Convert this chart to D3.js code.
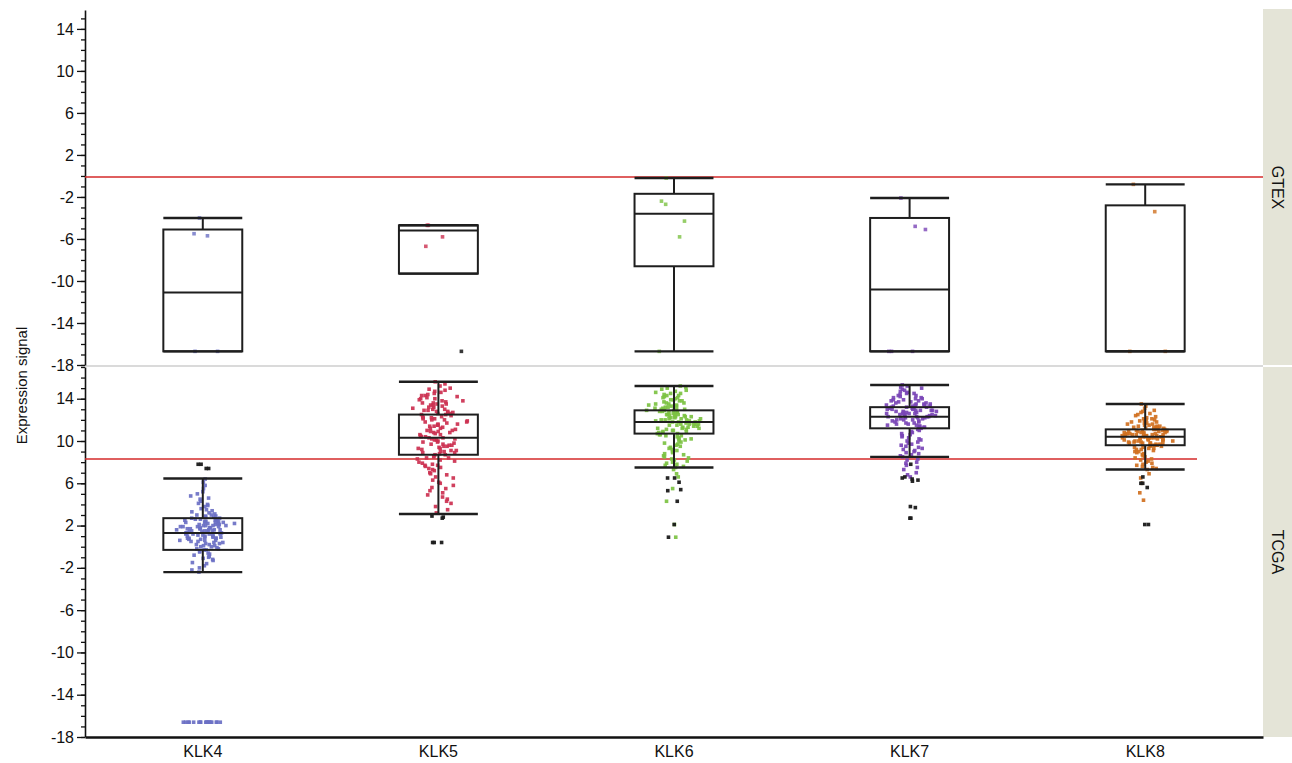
<!DOCTYPE html>
<html><head><meta charset="utf-8">
<script src="https://cdn.jsdelivr.net/npm/d3@7"></script>
<style>body{margin:0;background:#fff} svg{display:block} text{font-family:"Liberation Sans",Arial,sans-serif;fill:#111}</style>
</head><body><svg id="c" width="1292" height="763"></svg>
<script>
// ---------------- DATA ----------------
const categories = ["KLK4","KLK5","KLK6","KLK7","KLK8"];
const panels = ["GTEX","TCGA"];
const yMajorTicks = [14,10,6,2,-2,-6,-10,-14,-18];
const yTitle = "Expression signal";
const colors = ["#6b70c4","#cc3050","#7cc242","#7a45b6","#d07020"];

// reference (red) lines, one per panel
const refValues = [-0.1, 8.3];

// box statistics, GTEX panel (per category)
const gtexLo  = [-16.7, -9.3, -16.7, -16.7, -16.7];
const gtexQ1  = [-16.7, -9.3,  -8.6, -16.7, -16.7];
const gtexMed = [-11.1, -5.2,  -3.6, -10.8, -16.7];
const gtexQ3  = [ -5.1, -4.7,  -1.7,  -4.0,  -2.8];
const gtexHi  = [ -4.0, -4.7,  -0.2,  -2.1,  -0.8];

// box statistics, TCGA panel
const tcgaLo  = [-2.4,  3.1,  7.5,  8.5,  7.3];
const tcgaQ1  = [-0.3,  8.7, 10.7, 11.2,  9.6];
const tcgaMed = [ 1.3, 10.3, 11.8, 12.3, 10.4];
const tcgaQ3  = [ 2.7, 12.5, 12.9, 13.2, 11.1];
const tcgaHi  = [ 6.45,15.6, 15.2, 15.3, 13.5];

// visible GTEX points
const gtexKLK4 = [-4.0, -5.5, -5.7, -16.7, -16.7];
const gtexKLK5 = [-4.7, -4.7, -5.8, -6.7];
const gtexKLK6 = [-0.2, -2.4, -2.7, -4.3, -5.8, -16.7];
const gtexKLK7 = [-2.1, -4.8, -5.1, -16.7, -16.7, -16.7];
const gtexKLK8 = [-0.8, -3.4, -16.7, -16.7];
const gtexDark = [[], [-16.7], [], [], []];

// TCGA points
const tcgaKLK4 = [6.4,6.1,5.8,5.5,5.2,5.0,4.8,4.6,4.5,4.3,4.1,4.0,3.9,3.8,3.6,3.5,3.4,3.3,3.2,3.1,3.0,3.0,2.9,2.9,2.8,2.8,2.7,2.7,2.6,2.6,2.5,2.5,2.5,2.4,2.4,2.3,2.3,2.3,2.2,2.2,2.2,2.1,2.1,2.0,2.0,2.0,1.9,1.9,1.9,1.8,1.8,1.8,1.7,1.7,1.7,1.6,1.6,1.6,1.5,1.5,1.5,1.4,1.4,1.4,1.3,1.3,1.3,1.2,1.2,1.2,1.1,1.1,1.0,1.0,1.0,0.9,0.9,0.8,0.8,0.8,0.7,0.7,0.6,0.6,0.5,0.5,0.4,0.4,0.3,0.3,0.2,0.2,0.1,0.1,0.0,0.0,-0.1,-0.2,-0.2,-0.3,-0.3,-0.4,-0.5,-0.6,-0.7,-0.8,-0.9,-1.0,-1.1,-1.2,-1.3,-1.5,-1.6,-1.8,-2.0,-2.2,-2.4,2.6,2.3,2.1,1.9,1.7,1.5,1.3,1.1,0.9,0.6,2.4,2.0,1.6,1.2,0.8];
const tcgaKLK4Floor = [-16.6,-16.6,-16.6,-16.6,-16.6,-16.6,-16.6,-16.6,-16.6,-16.6,-16.6,-16.6,-16.6,-16.6,-16.6,-16.6,-16.6,-16.6];
const tcgaKLK5 = [15.6,15.4,15.2,15.0,14.9,14.8,14.7,14.6,14.5,14.4,14.3,14.3,14.2,14.1,14.0,14.0,13.9,13.8,13.8,13.7,13.6,13.6,13.5,13.4,13.4,13.3,13.2,13.2,13.1,13.0,13.0,12.9,12.9,12.8,12.7,12.7,12.6,12.6,12.5,12.5,12.4,12.3,12.3,12.2,12.1,12.1,12.0,12.0,11.9,11.8,11.8,11.7,11.6,11.6,11.5,11.4,11.4,11.3,11.2,11.2,11.1,11.0,11.0,10.9,10.8,10.8,10.7,10.6,10.6,10.5,10.4,10.4,10.3,10.3,10.2,10.1,10.1,10.0,9.9,9.9,9.8,9.7,9.7,9.6,9.5,9.5,9.4,9.3,9.3,9.2,9.1,9.1,9.0,8.9,8.9,8.8,8.7,8.7,8.6,8.5,8.4,8.3,8.2,8.1,8.0,7.9,7.8,7.7,7.6,7.5,7.4,7.3,7.2,7.0,6.9,6.8,6.6,6.5,6.3,6.1,6.0,5.8,5.6,5.5,5.3,5.1,4.9,4.7,4.5,4.3,4.1,3.8,3.5,3.2,13.5,12.8,12.2,11.5,10.9,10.2,9.6,9.0,8.4,7.7];
const tcgaKLK6 = [15.2,15.1,15.0,14.9,14.8,14.7,14.6,14.5,14.5,14.4,14.3,14.3,14.2,14.1,14.1,14.0,13.9,13.9,13.8,13.8,13.7,13.6,13.6,13.5,13.5,13.4,13.4,13.3,13.3,13.2,13.2,13.1,13.1,13.0,13.0,12.9,12.9,12.9,12.8,12.8,12.7,12.7,12.7,12.6,12.6,12.5,12.5,12.5,12.4,12.4,12.3,12.3,12.3,12.2,12.2,12.1,12.1,12.1,12.0,12.0,11.9,11.9,11.9,11.8,11.8,11.8,11.7,11.7,11.6,11.6,11.6,11.5,11.5,11.4,11.4,11.3,11.3,11.2,11.2,11.1,11.1,11.0,11.0,10.9,10.9,10.8,10.8,10.7,10.7,10.6,10.5,10.5,10.4,10.3,10.2,10.2,10.1,10.0,9.9,9.8,9.7,9.6,9.5,9.4,9.3,9.2,9.1,9.0,8.9,8.8,8.7,8.6,8.5,8.4,8.3,8.2,8.1,8.0,7.9,7.8,7.7,7.6,7.5,7.3,6.9,6.6,5.5,4.3,2.1,0.9,12.4,12.0,11.6,13.0,11.2,10.6];
const tcgaKLK7 = [15.3,15.2,15.1,15.0,14.9,14.8,14.7,14.6,14.5,14.5,14.4,14.3,14.3,14.2,14.1,14.1,14.0,14.0,13.9,13.9,13.8,13.8,13.7,13.7,13.6,13.6,13.5,13.5,13.5,13.4,13.4,13.3,13.3,13.3,13.2,13.2,13.2,13.1,13.1,13.1,13.0,13.0,13.0,12.9,12.9,12.9,12.8,12.8,12.8,12.7,12.7,12.7,12.6,12.6,12.6,12.5,12.5,12.5,12.4,12.4,12.4,12.3,12.3,12.3,12.2,12.2,12.2,12.1,12.1,12.0,12.0,11.9,11.9,11.8,11.8,11.7,11.7,11.6,11.6,11.5,11.5,11.4,11.4,11.3,11.3,11.2,11.2,11.1,11.0,10.9,10.8,10.7,10.6,10.5,10.4,10.3,10.2,10.1,10.0,9.9,9.8,9.7,9.6,9.5,9.4,9.3,9.2,9.1,9.0,8.9,8.8,8.7,8.6,8.5,8.3,8.2,8.0,7.9,7.7,7.5,7.3,7.0,6.8,6.6,12.9,12.6,12.3,13.1,12.0,13.4];
const tcgaKLK8 = [13.5,13.3,13.1,12.9,12.8,12.7,12.6,12.5,12.4,12.3,12.2,12.1,12.1,12.0,12.0,11.9,11.9,11.8,11.8,11.7,11.7,11.6,11.6,11.5,11.5,11.4,11.4,11.4,11.3,11.3,11.3,11.2,11.2,11.2,11.1,11.1,11.1,11.0,11.0,11.0,11.0,10.9,10.9,10.9,10.8,10.8,10.8,10.8,10.7,10.7,10.7,10.7,10.6,10.6,10.6,10.6,10.5,10.5,10.5,10.5,10.4,10.4,10.4,10.4,10.3,10.3,10.3,10.3,10.2,10.2,10.2,10.2,10.1,10.1,10.1,10.0,10.0,10.0,9.9,9.9,9.9,9.8,9.8,9.8,9.7,9.7,9.7,9.6,9.6,9.6,9.5,9.5,9.4,9.4,9.3,9.3,9.2,9.2,9.1,9.0,9.0,8.9,8.8,8.7,8.6,8.5,8.4,8.3,8.2,8.1,8.0,7.9,7.8,7.7,7.6,7.5,7.4,7.3,6.9,6.5,6.0,5.1,4.4,10.9,10.6,10.3,10.0,11.2,10.5,9.8];
const tcgaDark = [
  [7.8,7.8,7.4,7.4],
  [2.9,2.8,2.7,0.4,0.4,0.4],
  [6.5,6.5,6.1,5.4,5.3,4.3,2.1,0.9],
  [7.8,6.6,6.5,6.4,6.3,6.2,3.8,3.7,2.7,2.7],
  [6.6,6.0,6.0,5.6,2.1,2.1]
];

// ---------------- LAYOUT ----------------
const svg = d3.select("#c");
const plotL = 85, plotR = 1263, stripR = 1292;
const panelTop = [10, 367], panelBot = [365, 737];
const panelDomain = [[-18, 15.8], [-18, 17]];
const refExtent = [1.0, 0.944];
const boxFrac = 0.335;

const x = d3.scaleBand().domain(categories).range([plotL, plotR]);
const ys = panelDomain.map((d, i) => d3.scaleLinear().domain(d).range([panelBot[i], panelTop[i]]));

const boxStats = [
  [gtexLo, gtexQ1, gtexMed, gtexQ3, gtexHi],
  [tcgaLo, tcgaQ1, tcgaMed, tcgaQ3, tcgaHi]
];
const gtexPts = [gtexKLK4, gtexKLK5, gtexKLK6, gtexKLK7, gtexKLK8];
const tcgaPts = [tcgaKLK4, tcgaKLK5, tcgaKLK6, tcgaKLK7, tcgaKLK8];

// deterministic integer hash, used only for horizontal jitter placement
function hash(n) {
  let t = (n * 2654435761 + 0x6D2B79F5) | 0;
  t = Math.imul(t ^ (t >>> 15), t | 1);
  t ^= t + Math.imul(t ^ (t >>> 7), t | 61);
  return ((t ^ (t >>> 14)) >>> 0) / 4294967296;
}
let seedBase = 17;
function jitter(vals, maxW, bw, minW) {
  const counts = vals.map(v => vals.filter(u => Math.abs(u - v) <= bw).length);
  const mc = d3.max(counts) || 1;
  const base = seedBase; seedBase += 997;
  return vals.map((v, i) => {
    const w = minW + (maxW - minW) * Math.pow(counts[i] / mc, 0.75);
    const u = 0.6 * (2 * hash(base + i * 3) - 1) + 0.4 * (hash(base + i * 3 + 1) + hash(base + i * 3 + 2) - 1);
    return u * w;
  });
}

// strips
panels.forEach((p, i) => {
  svg.append("rect").attr("x", plotR).attr("y", panelTop[i] - (i === 0 ? 1 : 0))
    .attr("width", stripR - plotR).attr("height", panelBot[i] - panelTop[i] + (i === 0 ? 1 : 0))
    .attr("fill", "#e4e4d7");
  svg.append("text")
    .attr("transform", `translate(${(plotR + stripR) / 2},${(panelTop[i] + panelBot[i]) / 2}) rotate(90)`)
    .attr("text-anchor", "middle").attr("dominant-baseline", "central")
    .style("font-size", "16px").text(p);
});

// panel separator
svg.append("line").attr("x1", plotL).attr("x2", plotR)
  .attr("y1", (panelBot[0] + panelTop[1]) / 2).attr("y2", (panelBot[0] + panelTop[1]) / 2)
  .attr("stroke", "#dadada").attr("stroke-width", 2);

// axes
ys.forEach((y, i) => {
  const minor = d3.range(-18, Math.floor(panelDomain[i][1]) + 1);
  svg.append("g").attr("transform", `translate(${plotL},0)`)
    .call(d3.axisLeft(y).tickValues(minor).tickSize(4).tickSizeOuter(0).tickFormat(""))
    .call(g => g.selectAll("line").attr("stroke", "#111").attr("stroke-width", 1.3))
    .call(g => g.select(".domain").attr("stroke", "#111").attr("stroke-width", 1.6));
  svg.append("g").attr("transform", `translate(${plotL},0)`)
    .call(d3.axisLeft(y).tickValues(yMajorTicks).tickSize(8).tickSizeOuter(0).tickPadding(3)
      .tickFormat(d => d < 0 ? "-" + Math.abs(d) : String(d)))
    .call(g => g.select(".domain").remove())
    .call(g => g.selectAll("line").attr("stroke", "#111").attr("stroke-width", 1.3))
    .call(g => g.selectAll("text").style("font-size", "16px").attr("fill", "#111")
      .style("font-family", '"Liberation Sans",Arial,sans-serif'));
});

// x axis
svg.append("g").attr("transform", `translate(0,${panelBot[1]})`)
  .call(d3.axisBottom(x).tickSize(0).tickPadding(9))
  .call(g => g.select(".domain").attr("stroke", "#111").attr("stroke-width", 2.4))
  .call(g => g.selectAll("text").style("font-size", "16px").attr("fill", "#111")
    .style("font-family", '"Liberation Sans",Arial,sans-serif'));

// y title
svg.append("text")
  .attr("transform", `translate(21,${(panelTop[0] + panelBot[1]) / 2 + 12}) rotate(-90)`)
  .attr("text-anchor", "middle").attr("dominant-baseline", "central")
  .style("font-size", "15px").text(yTitle);

// reference lines
refValues.forEach((v, i) => {
  svg.append("line").attr("x1", plotL).attr("x2", plotL + (plotR - plotL) * refExtent[i])
    .attr("y1", ys[i](v)).attr("y2", ys[i](v))
    .attr("stroke", "#d42a2a").attr("stroke-width", 1.6);
});

const ptSize = 3.6;
function drawPts(g, vals, cx, y, color, maxW, minW, op) {
  const jx = jitter(vals, maxW, 0.45, minW);
  g.selectAll(null).data(vals).join("rect")
    .attr("x", (d, k) => cx + jx[k] - ptSize / 2)
    .attr("y", d => y(d) - ptSize / 2)
    .attr("width", ptSize).attr("height", ptSize)
    .attr("fill", color).attr("opacity", op);
}

// boxes + points
boxStats.forEach((st, pi) => {
  const y = ys[pi];
  const g = svg.append("g");
  categories.forEach((c, ci) => {
    const cx = x(c) + x.bandwidth() / 2;
    const bw = x.bandwidth() * boxFrac;
    const [lo, q1, med, q3, hi] = st.map(a => a[ci]);
    if (pi === 0) {
      drawPts(g, gtexPts[ci], cx, y, colors[ci], 28, 20, 0.8);
      drawPts(g, gtexDark[ci], cx + 26, y, "#222", 4, 2, 0.9);
    } else {
      drawPts(g, tcgaPts[ci], cx, y, colors[ci], 38, 6, 0.92);
      if (ci === 0) drawPts(g, tcgaKLK4Floor, cx, y, colors[ci], 32, 32, 0.92);
      drawPts(g, tcgaDark[ci], cx, y, "#1a1a1a", 12, 8, 0.95);
    }
    const bg = svg.append("g").attr("stroke", "#1e1e1e").attr("fill", "none");
    bg.append("line").attr("x1", cx).attr("x2", cx).attr("y1", y(hi)).attr("y2", y(q3)).attr("stroke-width", 2);
    bg.append("line").attr("x1", cx).attr("x2", cx).attr("y1", y(q1)).attr("y2", y(lo)).attr("stroke-width", 2);
    bg.append("line").attr("x1", cx - bw / 2).attr("x2", cx + bw / 2).attr("y1", y(hi)).attr("y2", y(hi)).attr("stroke-width", 2.4);
    bg.append("line").attr("x1", cx - bw / 2).attr("x2", cx + bw / 2).attr("y1", y(lo)).attr("y2", y(lo)).attr("stroke-width", 2.4);
    bg.append("rect").attr("x", cx - bw / 2).attr("width", bw)
      .attr("y", y(q3)).attr("height", Math.max(0, y(q1) - y(q3))).attr("stroke-width", 2);
    bg.append("line").attr("x1", cx - bw / 2).attr("x2", cx + bw / 2).attr("y1", y(med)).attr("y2", y(med)).attr("stroke-width", 2);
  });
});
</script></body></html>
